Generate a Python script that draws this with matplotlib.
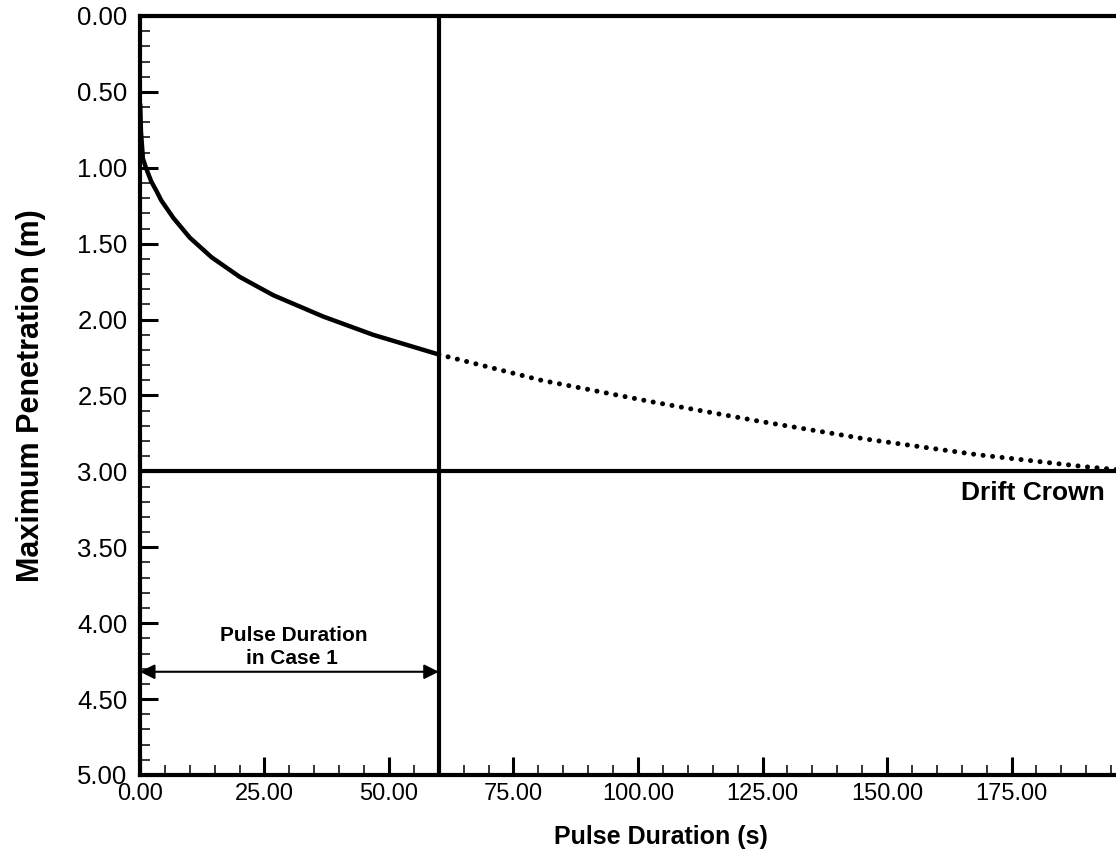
import matplotlib
matplotlib.use('Agg')
import matplotlib.pyplot as plt
from matplotlib.ticker import MultipleLocator, FixedLocator, FormatStrFormatter

plt.rcParams['font.family'] = ['Liberation Sans', 'DejaVu Sans']

# solid part: computed penetration up to the case 1 pulse (s, m)
t_solid = [0.05, 0.2, 0.6, 1.2, 2.27, 3.35, 4.28, 6.7, 10.0, 14.4, 20.1, 26.8, 36.8, 46.8, 60.0]
d_solid = [0.58, 0.76, 0.94, 1.00, 1.09, 1.155, 1.215, 1.33, 1.46, 1.59, 1.72, 1.84, 1.98, 2.10, 2.23]

# dotted part: extrapolation beyond 60 s
t_dot = [60.0, 80.6, 102.5, 124.4, 146.3, 168.1, 190.0, 200.0]
d_dot = [2.23, 2.40, 2.54, 2.67, 2.79, 2.89, 2.97, 3.00]

case1_pulse = 60.0
drift_crown = 3.0
x_major = [0, 25, 50, 75, 100, 125, 150, 175]

fig = plt.figure(figsize=(11.16, 8.59), dpi=100)
ax = fig.add_axes([0.1254, 0.0978, 0.8926, 0.8836])

ax.plot(t_solid, d_solid, color='black', lw=3.2, solid_capstyle='round',
        solid_joinstyle='round')
# dotted extrapolation
ax.plot(t_dot, d_dot, color='black', lw=3.6, linestyle=(0, (0.01, 1.9)),
        dash_capstyle='round')

ax.axvline(case1_pulse, color='black', lw=3.0)
ax.axhline(drift_crown, color='black', lw=3.0)

ax.annotate('', xy=(0, 4.32), xytext=(case1_pulse, 4.32),
            arrowprops=dict(arrowstyle='<|-|>', color='black', lw=1.5,
                            mutation_scale=22, shrinkA=0, shrinkB=0))
ax.text(30.9, 4.08, 'Pulse Duration', ha='center', va='center',
        fontsize=15, fontweight='bold')
ax.text(30.6, 4.23, 'in Case 1', ha='center', va='center',
        fontsize=15, fontweight='bold')
ax.text(193.8, 3.14, 'Drift Crown', ha='right', va='center',
        fontsize=19, fontweight='bold')

ax.set_xlim(0, 200)
ax.set_ylim(5, 0)
ax.xaxis.set_major_locator(FixedLocator(x_major))
ax.xaxis.set_minor_locator(MultipleLocator(5))
ax.yaxis.set_major_locator(MultipleLocator(0.5))
ax.yaxis.set_minor_locator(MultipleLocator(0.1))
ax.xaxis.set_major_formatter(FormatStrFormatter('%.2f'))
ax.yaxis.set_major_formatter(FormatStrFormatter('%.2f'))

ax.tick_params(which='major', direction='in', length=13, width=2.2,
               labelsize=17, pad=6)
ax.tick_params(which='minor', direction='in', length=7, width=1.1)
ax.tick_params(axis='y', which='major', labelsize=18.5, pad=9)
for s in ax.spines.values():
    s.set_linewidth(3.0)

ax.set_xlabel('Pulse Duration (s)', fontsize=18, fontweight='bold')
ax.set_ylabel('Maximum Penetration (m)', fontsize=22, fontweight='bold')
ax.xaxis.set_label_coords(0.523, -0.066)
ax.yaxis.set_label_coords(-0.094, 0.50)

fig.savefig('out.png', dpi=100)
